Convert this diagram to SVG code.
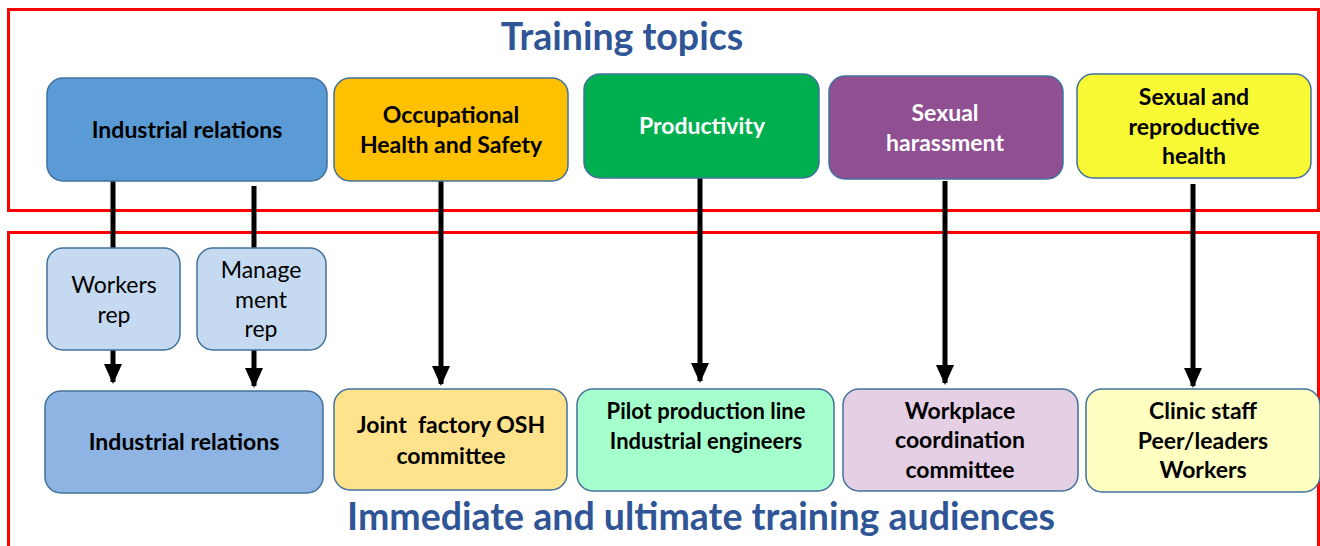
<svg xmlns="http://www.w3.org/2000/svg" width="1320" height="546" viewBox="0 0 1320 546">
<style>
.frame{fill:none;stroke:#ff0000;stroke-width:3}
.title{font-family:Lato,"Liberation Sans",sans-serif;font-weight:bold;font-size:37.5px;fill:#2f5597;text-anchor:middle}
.box{stroke:#41719c;stroke-width:1.5}
.t{font-family:Lato,"Liberation Sans",sans-serif;font-weight:bold;font-size:23px;fill:#000;text-anchor:middle}
.w{fill:#fff}
.n{font-weight:normal}
.conn{stroke:#000;stroke-width:5;fill:none}
</style>
<defs>
<marker id="ah" markerUnits="userSpaceOnUse" markerWidth="20" markerHeight="20" viewBox="0 0 20 20" refX="18" refY="10" orient="auto">
<path d="M0,1 L20,10 L0,19 Z" fill="#000"/>
</marker>
</defs>
<rect width="1320" height="546" fill="#fff"/>
<g id="frames">
<rect class="frame" x="8.5" y="9.5" width="1310" height="201"/>
<rect class="frame" x="8.5" y="232.5" width="1310" height="330"/>
</g>
<text class="title" x="622" y="50">Training topics</text>
<text class="title" x="701" y="530">Immediate and ultimate training audiences</text>
<g id="connectors">
<line class="conn" x1="113" y1="181" x2="113" y2="248"/>
<line class="conn" x1="254" y1="186" x2="254" y2="248"/>
<path class="conn" d="M113,350 V382" marker-end="url(#ah)"/>
<path class="conn" d="M254,350 V386" marker-end="url(#ah)"/>
<path class="conn" d="M441,181 V384" marker-end="url(#ah)"/>
<path class="conn" d="M700,178 V381" marker-end="url(#ah)"/>
<path class="conn" d="M945,181 V383" marker-end="url(#ah)"/>
<path class="conn" d="M1193,184 V386" marker-end="url(#ah)"/>
</g>
<g id="topic-ir">
<rect class="box" x="47" y="78" width="280" height="103" rx="16" fill="#5b9bd5"/>
<text class="t" x="187" y="138">Industrial relations</text>
</g>
<g id="topic-osh">
<rect class="box" x="334" y="78" width="234" height="103" rx="16" fill="#ffc000"/>
<text class="t" x="451" y="123">Occupational</text>
<text class="t" x="451" y="153">Health and Safety</text>
</g>
<g id="topic-productivity">
<rect class="box" x="584" y="74" width="235" height="104" rx="16" fill="#00b050"/>
<text class="t w" x="702" y="134">Productivity</text>
</g>
<g id="topic-harassment">
<rect class="box" x="829" y="76" width="234" height="103" rx="16" fill="#8f4f91"/>
<text class="t w" x="945" y="121">Sexual</text>
<text class="t w" x="945" y="151">harassment</text>
</g>
<g id="topic-srh">
<rect class="box" x="1077" y="74" width="234" height="104" rx="16" fill="#f8f835"/>
<text class="t" x="1194" y="105">Sexual and</text>
<text class="t" x="1194" y="135">reproductive</text>
<text class="t" x="1194" y="164">health</text>
</g>
<g id="workers-rep">
<rect class="box" x="47" y="248" width="133" height="102" rx="16" fill="#c5daf0"/>
<text class="t n" x="114" y="293">Workers</text>
<text class="t n" x="114" y="323">rep</text>
</g>
<g id="management-rep">
<rect class="box" x="197" y="248" width="129" height="102" rx="16" fill="#c5daf0"/>
<text class="t n" x="261" y="278">Manage</text>
<text class="t n" x="261" y="308">ment</text>
<text class="t n" x="261" y="337">rep</text>
</g>
<g id="aud-ir">
<rect class="box" x="45" y="391" width="278" height="102" rx="16" fill="#8db4e2"/>
<text class="t" x="184" y="450">Industrial relations</text>
</g>
<g id="aud-osh">
<rect class="box" x="334" y="389" width="233" height="101" rx="16" fill="#ffe38c"/>
<text class="t" x="451" y="433" xml:space="preserve">Joint  factory OSH</text>
<text class="t" x="451" y="464">committee</text>
</g>
<g id="aud-productivity">
<rect class="box" x="577" y="389" width="257" height="102" rx="16" fill="#a4ffcc"/>
<text class="t" x="706" y="419" style="font-size:22px">Pilot production line</text>
<text class="t" x="706" y="449" style="font-size:22px">Industrial engineers</text>
</g>
<g id="aud-workplace">
<rect class="box" x="843" y="389" width="235" height="102" rx="16" fill="#e5cfe5"/>
<text class="t" x="960" y="419">Workplace</text>
<text class="t" x="960" y="448">coordination</text>
<text class="t" x="960" y="478">committee</text>
</g>
<g id="aud-srh">
<rect class="box" x="1086" y="389" width="234" height="103" rx="16" fill="#ffffc2"/>
<text class="t" x="1203" y="419">Clinic staff</text>
<text class="t" x="1203" y="449">Peer/leaders</text>
<text class="t" x="1203" y="478">Workers</text>
</g>
</svg>
